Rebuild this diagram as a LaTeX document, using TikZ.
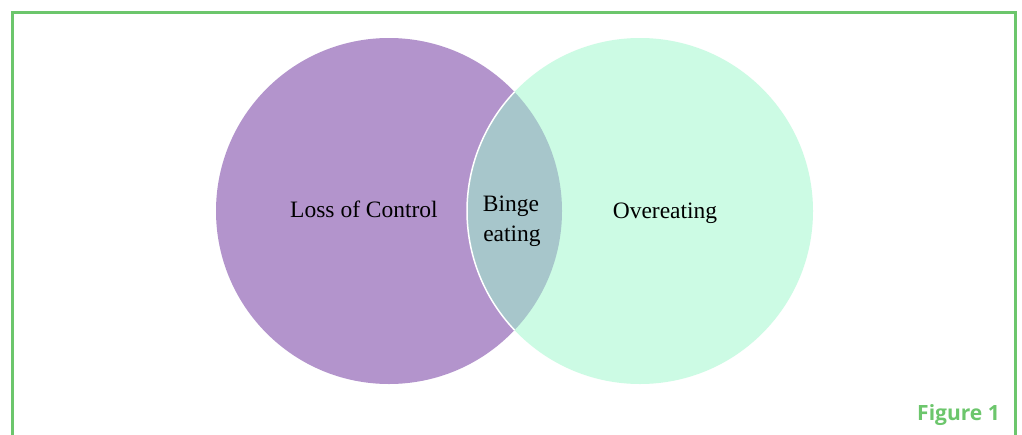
\documentclass[tikz,border=0pt]{standalone}
\usepackage{fontspec}
\setmainfont{Liberation Serif}
\newfontfamily\figfont{Open Sans}
\definecolor{frame}{HTML}{6CC66C}
\definecolor{lpurple}{HTML}{B394CC}
\definecolor{lmint}{HTML}{CCFBE4}
\definecolor{llens}{HTML}{A7C6CB}
\tikzset{
  lbl/.style={font=\fontsize{23.5}{30}\selectfont, text=black, anchor=base, inner sep=0pt},
}
\begin{document}
\begin{tikzpicture}[x=1pt,y=-1pt]
\useasboundingbox (0,0) rectangle (1022,434);
\fill[white] (0,0) rectangle (1022,434);
\draw[frame, line width=3pt] (12.5,440) -- (12.5,12.5) -- (1015.5,12.5) -- (1015.5,440);
\coordinate (cl) at (389,211);
\coordinate (cr) at (640,211);
\fill[lpurple] (cl) circle (173);
\fill[lmint] (cr) circle (173);
\begin{scope}
  \clip (cl) circle (173);
  \fill[llens] (cr) circle (173);
\end{scope}
\draw[white, line width=1.5pt] (cr) ++(-173,0) arc (180:136.5:173);
\draw[white, line width=1.5pt] (cr) ++(-173,0) arc (180:223.5:173);
\node[lbl] (loc) at (364,217) {Loss of Control};
\node[lbl] (be1) at (511,211) {Binge};
\node[lbl] (be2) at (512,241) {eating};
\node[lbl] (ov) at (665,218) {Overeating};
\node[anchor=base east, inner sep=0pt, text=frame, font=\figfont\bfseries\fontsize{21}{24}\selectfont] (fig) at (1000,420) {Figure 1};
\end{tikzpicture}
\end{document}
